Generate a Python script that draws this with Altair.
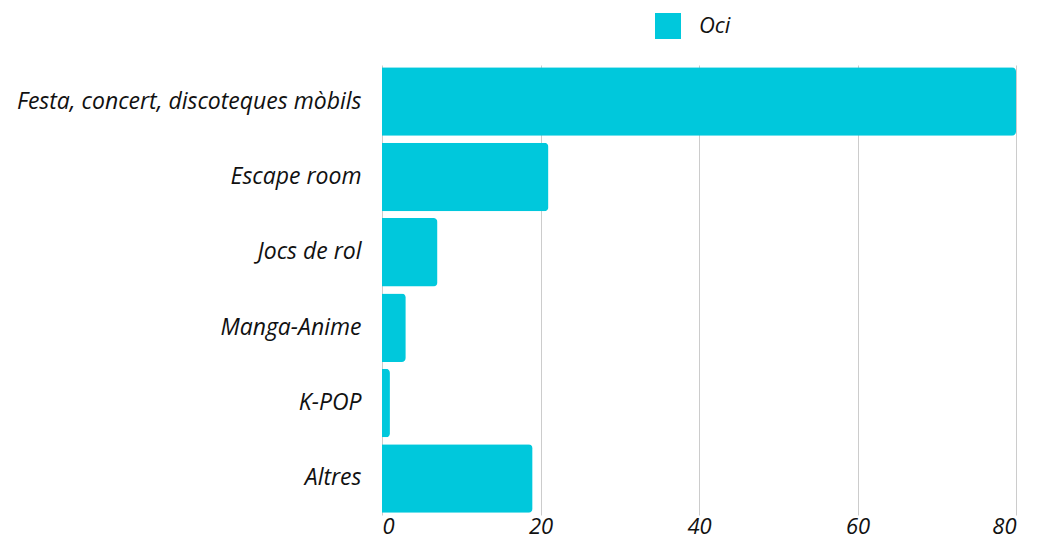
import altair as alt
import pandas as pd

categories = ["Festa, concert, discoteques mòbils", "Escape room", "Jocs de rol",
              "Manga-Anime", "K-POP", "Altres"]
values = [80, 21, 7, 3, 1, 19]
series = ["Oci"] * len(categories)

df = pd.DataFrame({"cat": categories, "val": values, "serie": series})

FONT = "Open Sans"
FS = 22

chart = alt.Chart(df).mark_bar(cornerRadiusEnd=4).encode(
    y=alt.Y("cat:N", sort=categories, title=None,
            scale=alt.Scale(paddingInner=0.09, paddingOuter=0.03),
            axis=alt.Axis(domain=False, ticks=False, labelPadding=21,
                          labelFont=FONT, labelFontStyle="italic", labelFontSize=23,
                          labelColor="#111", labelLimit=400)),
    x=alt.X("val:Q", title=None,
            scale=alt.Scale(domain=[0, 80], nice=False),
            axis=alt.Axis(values=[0, 20, 40, 60, 80], domain=False, ticks=False,
                          grid=True, gridColor="#cccccc", labelPadding=1,
                          labelFont=FONT, labelFontStyle="italic", labelFontSize=FS,
                          labelColor="#111")),
    color=alt.Color("serie:N", title=None,
                    scale=alt.Scale(range=["#00c8dc"]),
                    legend=alt.Legend(orient="none", legendX=273, legendY=-52,
                                      symbolType="square", symbolSize=676,
                                      symbolStrokeWidth=0, labelFont=FONT,
                                      labelFontStyle="italic", labelFontSize=FS,
                                      labelColor="#111", labelOffset=18)),
).properties(
    width=634, height=450,
    autosize=alt.AutoSizeParams(type="none"),
    padding={"left": 374, "top": 57, "right": 4, "bottom": 23},
).configure_view(stroke=None)

chart.save("out.html", embed_options={"renderer": "svg", "actions": False})
